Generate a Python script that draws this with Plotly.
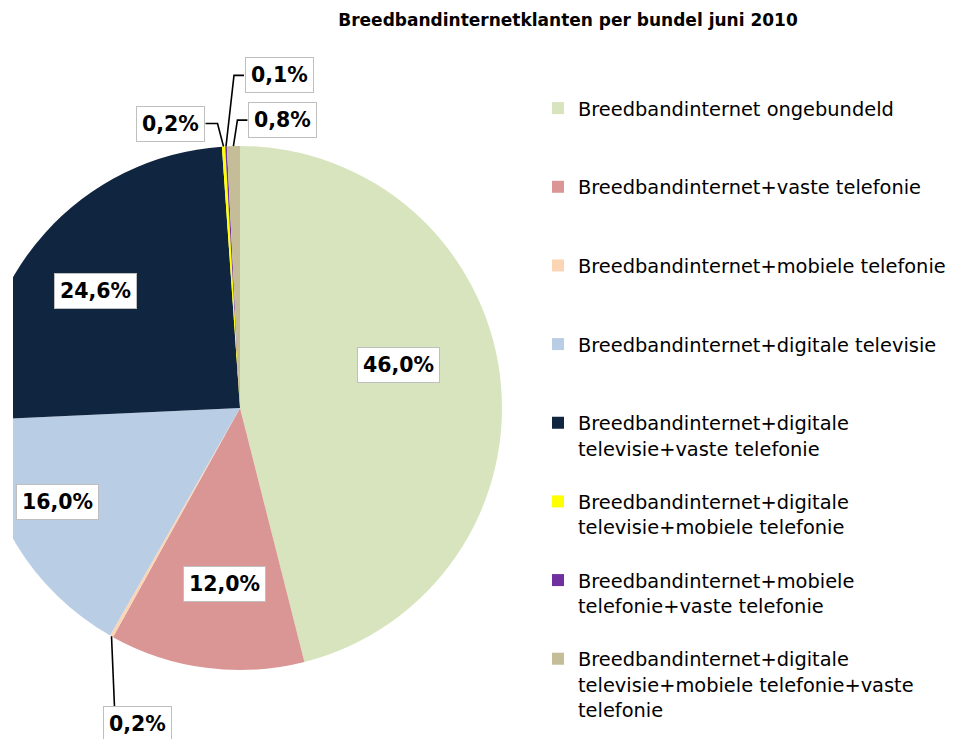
import math
import plotly.graph_objects as go

# ---------------- data ----------------
title_text = "Breedbandinternetklanten per bundel juni 2010"

categories = [
    "Breedbandinternet ongebundeld",
    "Breedbandinternet+vaste telefonie",
    "Breedbandinternet+mobiele telefonie",
    "Breedbandinternet+digitale televisie",
    "Breedbandinternet+digitale<br>televisie+vaste telefonie",
    "Breedbandinternet+digitale<br>televisie+mobiele telefonie",
    "Breedbandinternet+mobiele<br>telefonie+vaste telefonie",
    "Breedbandinternet+digitale<br>televisie+mobiele telefonie+vaste<br>telefonie",
]

shares = [46.0, 12.0, 0.2, 16.0, 24.6, 0.2, 0.1, 0.8]

slice_colors = [
    "#D7E4BD", "#D99694", "#FCD5B5", "#B9CDE5",
    "#10253F", "#FFFF00", "#7030A0", "#C4BD97",
]

# ---------------- layout geometry (pixels of the figure) ----------------
W, H = 993, 739          # figure is shifted 22 px left in the page
SHIFT = 22
CX, CY, R = 262, 408, 262
FONT = "DejaVu Sans"

# legend labels padded to equal height (3 lines each)
legend_labels = []
for c in categories:
    n = c.count("<br>") + 1
    legend_labels.append(c + "<br>\u00a0" * (3 - n))

fig = go.Figure()
fig.add_trace(go.Pie(
    labels=legend_labels,
    values=shares,
    sort=False,
    direction="clockwise",
    rotation=0,
    textinfo="none",
    hoverinfo="label+percent",
    marker=dict(colors=slice_colors, line=dict(width=0)),
    domain=dict(x=[(CX - R) / W, (CX + R) / W],
                y=[1 - (CY + R) / H, 1 - (CY - R) / H]),
))

total = sum(shares)
mids = []
cum = 0.0
for v in shares:
    mids.append((cum + v / 2) / total * 360.0)
    cum += v


def at(angle_deg, frac):
    a = math.radians(angle_deg)
    return CX + frac * R * math.sin(a), CY - frac * R * math.cos(a)


def paper(px, py):
    return px / W, 1 - py / H


def fmt(v):
    return f"{v:.1f}".replace(".", ",") + "%"


label_font = dict(family=FONT, size=20.5, color="black", weight="bold")
box = dict(bgcolor="white", bordercolor="#BFBFBF", borderwidth=1, borderpad=5,
           xanchor="center", yanchor="middle", xref="paper", yref="paper")

annotations = []
shapes = []

# inside labels: index -> (radial fraction, angle nudge)
inside = {0: (0.625, -8.1), 1: (0.674, -2.5), 3: (0.785, 4.2), 4: (0.711, -2.8)}
for i, (frac, dang) in inside.items():
    x, y = paper(*at(mids[i] + dang, frac))
    annotations.append(dict(x=x, y=y, text=fmt(shares[i]), showarrow=False,
                            font=label_font, **box))

# outside labels with elbow leader lines:
# index -> (label dx, label dy from slice edge point, elbow x offset from edge point)
HALF_W = 35
outside = {2: (26, 88, 3), 5: (-53, -23, -6), 6: (53, -71, 8), 7: (49, -26, 4)}
for i, (dx, dy, ex) in outside.items():
    px, py = at(mids[i], 1.0)
    lx, ly = px + dx, py + dy
    if dy > 0:   # label below: line down to the box top
        pts = [(px, py), (px + ex, ly - 17)]
    else:
        side = -1 if dx > 0 else 1
        bx = lx + side * HALF_W
        pts = [(px, py), (px + ex, ly), (bx, ly)]
    path = "M " + " L ".join(f"{paper(a, b)[0]:.5f},{paper(a, b)[1]:.5f}" for a, b in pts)
    shapes.append(dict(type="path", xref="paper", yref="paper", path=path,
                       line=dict(color="black", width=1.6), layer="above"))
    x, y = paper(lx, ly)
    annotations.append(dict(x=x, y=y, text=fmt(shares[i]), showarrow=False,
                            font=label_font, **box))

# white strip clipping the left side of the pie
shapes.append(dict(type="rect", xref="paper", yref="paper",
                   x0=0, x1=(13 + SHIFT) / W, y0=0, y1=1, fillcolor="white",
                   line=dict(width=0), layer="above"))

fig.update_layout(
    width=W, height=H,
    margin=dict(l=0, r=0, t=0, b=0),
    paper_bgcolor="white",
    plot_bgcolor="white",
    font=dict(family=FONT, color="black"),
    title=dict(text=title_text, x=590 / W, xanchor="center",
               y=1 - 20 / H, yanchor="middle",
               font=dict(family=FONT, size=17, color="black", weight="bold")),
    legend=dict(x=560 / W, xanchor="left", y=1 - 89 / H, yanchor="top",
                font=dict(family=FONT, size=19.4, color="black"),
                valign="top", bgcolor="rgba(0,0,0,0)", traceorder="normal"),
    annotations=annotations,
    shapes=shapes,
)

post = """
var gd = document.getElementById('{plot_id}');
document.body.style.margin = '0';
document.body.style.overflow = 'hidden';
gd.style.position = 'absolute';
gd.style.left = '-22px';
gd.style.top = '0px';
"""

fig.write_html("out.html", post_script=post, config={"displayModeBar": False})
